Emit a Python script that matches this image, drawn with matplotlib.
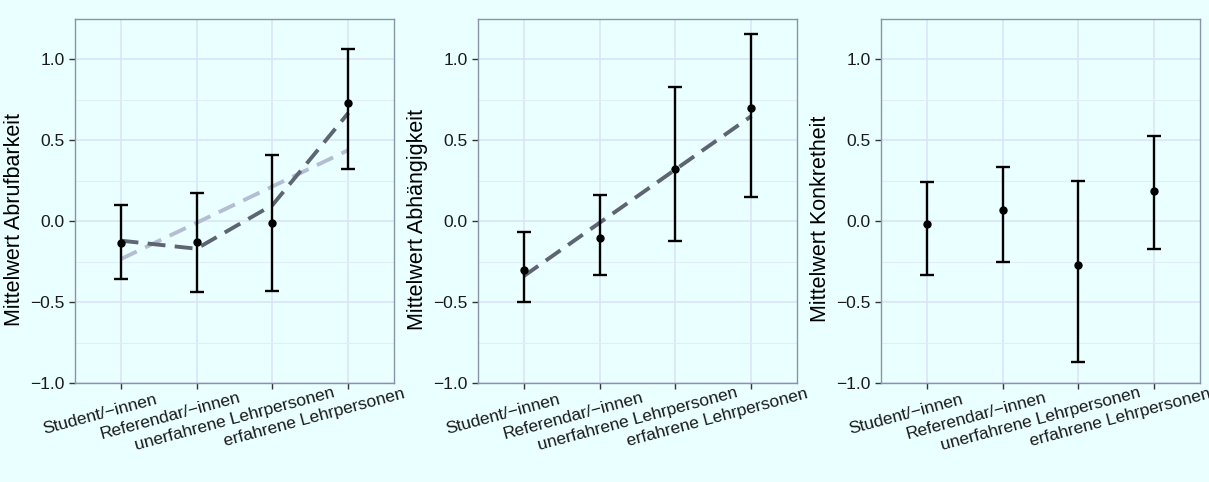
import numpy as np
import matplotlib
matplotlib.use("Agg")
import matplotlib.pyplot as plt
from matplotlib.transforms import ScaledTranslation

plt.rcParams['font.family'] = ['Liberation Sans', 'DejaVu Sans']

groups = ['Student/\u2212innen', 'Referendar/\u2212innen',
          'unerfahrene Lehrpersonen', 'erfahrene Lehrpersonen']

# Abrufbarkeit
abruf_mean = [-0.135, -0.13, -0.01, 0.73]
abruf_low = [-0.36, -0.44, -0.43, 0.32]
abruf_high = [0.10, 0.175, 0.41, 1.065]
abruf_fit_quad = [-0.12, -0.17, 0.10, 0.67]
abruf_fit_lin = [-0.235, -0.01, 0.215, 0.44]

# Abhaengigkeit
abh_mean = [-0.30, -0.105, 0.32, 0.70]
abh_low = [-0.50, -0.335, -0.125, 0.15]
abh_high = [-0.065, 0.165, 0.83, 1.16]
abh_fit_lin = [-0.34, -0.01, 0.32, 0.65]

# Konkretheit
konk_mean = [-0.015, 0.068, -0.272, 0.184]
konk_low = [-0.33, -0.25, -0.873, -0.171]
konk_high = [0.245, 0.333, 0.248, 0.526]

ylabels = ['Mittelwert Abrufbarkeit', 'Mittelwert Abh\u00e4ngigkeit',
           'Mittelwert Konkretheit']

BG = '#EAFFFF'
GRID = '#D9E3F8'
GRID_MINOR = '#E3EDF8'
SPINE = '#8A94A8'
DARK = '#5D6472'
LIGHT = '#B3BDD3'

fig = plt.figure(figsize=(12.09, 4.82), dpi=100, facecolor=BG)
lefts = [75, 478, 881]
axes = []
for l in lefts:
    ax = fig.add_axes([l / 1209, 99 / 482, 319 / 1209, 364 / 482])
    axes.append(ax)

panels = [
    (abruf_mean, abruf_low, abruf_high, [(abruf_fit_lin, LIGHT), (abruf_fit_quad, DARK)]),
    (abh_mean, abh_low, abh_high, [(abh_fit_lin, DARK)]),
    (konk_mean, konk_low, konk_high, []),
]

x = np.arange(1, len(groups) + 1)
for ax, (m, lo, hi, fits), yl in zip(axes, panels, ylabels):
    ax.set_facecolor(BG)
    m = np.array(m)
    err = np.vstack([m - np.array(lo), np.array(hi) - m])
    for vals, col in fits:
        ax.plot(x, vals, color=col, lw=2.8, dashes=(4.6, 2.4),
                dash_capstyle='butt', zorder=3)
    ax.errorbar(x, m, yerr=err, fmt='o', color='black', ms=5,
                elinewidth=1.7, capsize=5.3, capthick=1.7, zorder=4)
    ax.set_xlim(0.4, 4.6)
    ax.set_ylim(-1.0, 1.25)
    ax.set_yticks([-1.0, -0.5, 0.0, 0.5, 1.0])
    ax.set_yticks([-0.75, -0.25, 0.25, 0.75], minor=True)
    ax.set_yticklabels(['\u22121.0', '\u22120.5', '0.0', '0.5', '1.0'])
    ax.set_xticks(x)
    ax.set_xticklabels(groups, rotation=15, ha='center', va='top',
                       rotation_mode='anchor')
    ax.grid(True, which='major', color=GRID, lw=1.1, zorder=0)
    ax.grid(True, which='minor', axis='y', color=GRID_MINOR, lw=0.8, zorder=0)
    ax.set_axisbelow(True)
    for s in ax.spines.values():
        s.set_color(SPINE)
        s.set_linewidth(1.0)
    ax.tick_params(axis='both', which='major', length=4, width=1,
                   color='#333333', labelsize=12.5, labelcolor='#1a1a1a')
    ax.tick_params(axis='y', which='minor', length=0)
    ax.tick_params(axis='x', pad=9)
    ax.set_ylabel(yl, fontsize=15.5, color='black')
    ax.yaxis.set_label_coords(-0.156, 0.45)

# shift tick labels so the tick sits at 70 % of the text width
renderer = fig.canvas.get_renderer()
theta = np.deg2rad(15)
for ax in axes:
    for lbl in ax.get_xticklabels():
        w, h, d = renderer.get_text_width_height_descent(
            lbl.get_text(), lbl.get_fontproperties(), ismath=False)
        dx = -0.2 * w * np.cos(theta) / fig.dpi
        dy = -0.2 * w * np.sin(theta) / fig.dpi
        lbl.set_transform(lbl.get_transform() +
                          ScaledTranslation(dx, dy, fig.dpi_scale_trans))

fig.savefig('out.png', dpi=100, facecolor=BG)
